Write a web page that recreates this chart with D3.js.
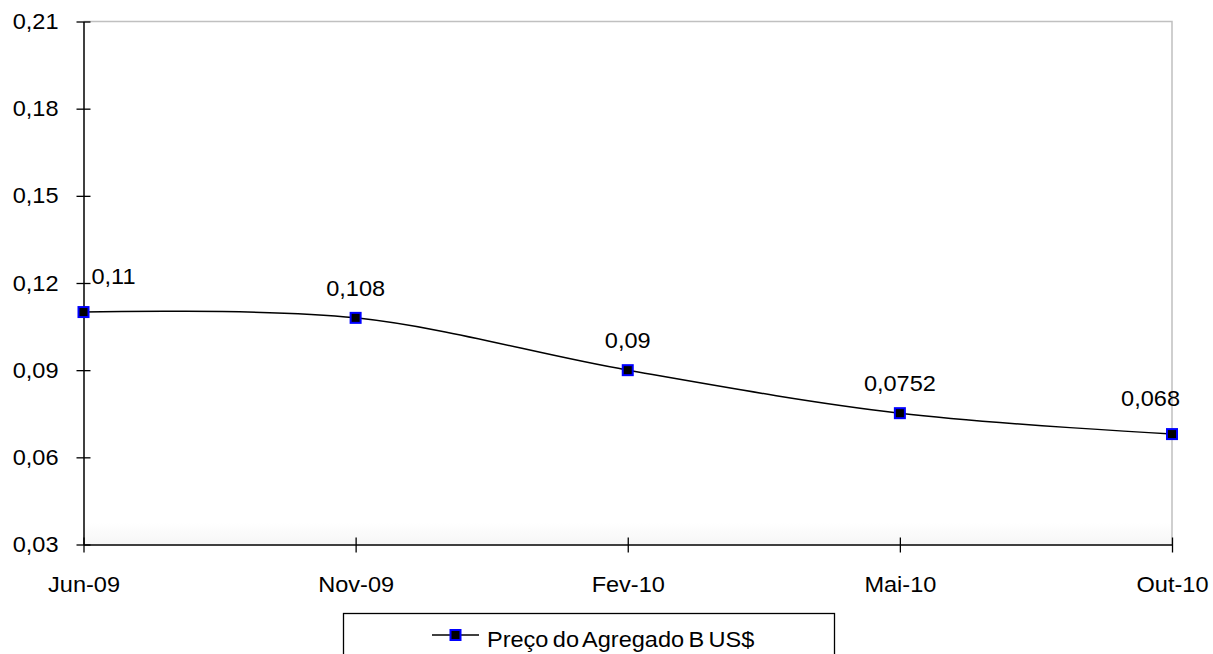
<!DOCTYPE html>
<html>
<head>
<meta charset="utf-8">
<script src="https://cdn.jsdelivr.net/npm/d3@7"></script>
<style>
  html, body { margin: 0; padding: 0; background: #fff; }
  svg { display: block; }
  text { font-family: "Liberation Sans", Arial, sans-serif; fill: #000; }
</style>
</head>
<body>
<svg id="chart" width="1213" height="654"></svg>
<script>
// Preço do Agregado B (US$) por período
const periods = ["Jun-09", "Nov-09", "Fev-10", "Mai-10", "Out-10"];
const prices = [0.11, 0.108, 0.09, 0.0752, 0.068];
const priceLabels = ["0,11", "0,108", "0,09", "0,0752", "0,068"];
const yTicks = [0.03, 0.06, 0.09, 0.12, 0.15, 0.18, 0.21];
const seriesName = "Preço do Agregado B US$";

const svg = d3.select("#chart");
const plot = { left: 83.5, right: 1172, top: 21.5, bottom: 544.5 };
const fontSize = 22;
const widen = 1.07; // slightly wide lettering

const x = d3.scalePoint().domain(periods).range([plot.left, plot.right]);
const y = d3.scaleLinear().domain([0.03, 0.21]).range([plot.bottom, plot.top]);
const fmt = d => d3.format(".2f")(d).replace(".", ",");

// stretch a text element horizontally around its own anchor x
function stretch(sel) {
  sel.each(function () {
    const t = d3.select(this);
    const ax = +t.attr("x") || 0;
    t.attr("transform", `translate(${ax},0) scale(${widen},1) translate(${-ax},0)`);
  });
}

// faint shading along the bottom of the plot area
const defs = svg.append("defs");
const grad = defs.append("linearGradient").attr("id", "floor").attr("x1", 0).attr("x2", 0).attr("y1", 0).attr("y2", 1);
grad.append("stop").attr("offset", "0%").attr("stop-color", "#fff");
grad.append("stop").attr("offset", "100%").attr("stop-color", "#f6f6f6");
svg.append("rect")
  .attr("x", plot.left).attr("y", plot.bottom - 22)
  .attr("width", plot.right - plot.left).attr("height", 22)
  .attr("fill", "url(#floor)");

// top and right frame
svg.append("path")
  .attr("d", `M${plot.left},${plot.top}H${plot.right}V${plot.bottom}`)
  .attr("fill", "none").attr("stroke", "#c0c0c0").attr("stroke-width", 1.5);

// y axis with ticks crossing the line
const yAxis = svg.append("g").attr("transform", `translate(${plot.left},0)`)
  .call(d3.axisLeft(y).tickValues(yTicks).tickFormat(fmt).tickSizeInner(7).tickSizeOuter(0).tickPadding(16));
yAxis.select(".domain").attr("stroke", "#000").attr("stroke-width", 1.5);
yAxis.selectAll(".tick line").attr("x2", 7).attr("x1", -7).attr("stroke", "#000").attr("stroke-width", 1.3);
yAxis.selectAll(".tick text")
  .attr("font-size", fontSize).attr("font-family", "Liberation Sans, Arial, sans-serif").attr("fill", "#000")
  .attr("x", -25).call(stretch);

// x axis
const xAxis = svg.append("g").attr("transform", `translate(0,${plot.bottom})`)
  .call(d3.axisBottom(x).tickSizeInner(8).tickSizeOuter(0).tickPadding(24));
xAxis.select(".domain").attr("stroke", "#000").attr("stroke-width", 1.5);
xAxis.selectAll(".tick line").attr("y1", -7).attr("y2", 8).attr("stroke", "#000").attr("stroke-width", 1.3);
xAxis.selectAll(".tick text")
  .attr("font-size", fontSize).attr("font-family", "Liberation Sans, Arial, sans-serif").attr("fill", "#000")
  .call(stretch);

// smoothed series line
const line = d3.line()
  .x((d, i) => x(periods[i]))
  .y(d => y(d))
  .curve(d3.curveCardinal.tension(0));
svg.append("path")
  .datum(prices)
  .attr("d", line)
  .attr("fill", "none").attr("stroke", "#000").attr("stroke-width", 1.5);

// markers
const mk = 10;
svg.append("g").selectAll("rect").data(prices).join("rect")
  .attr("x", (d, i) => x(periods[i]) - mk / 2)
  .attr("y", d => y(d) - mk / 2)
  .attr("width", mk).attr("height", mk)
  .attr("fill", "#000").attr("stroke", "#0000ff").attr("stroke-width", 2);

// value labels: centred above, end points nudged inside
const last = prices.length - 1;
svg.append("g").selectAll("text").data(prices).join("text")
  .attr("x", (d, i) => x(periods[i]) + (i === 0 ? 8 : i === last ? 8 : 0))
  .attr("y", (d, i) => y(d) - (i === 0 || i === last ? 28 : 22))
  .attr("text-anchor", (d, i) => i === 0 ? "start" : i === last ? "end" : "middle")
  .attr("font-size", fontSize)
  .text((d, i) => priceLabels[i])
  .call(stretch);

// legend
const lg = svg.append("g");
lg.append("rect")
  .attr("x", 343.5).attr("y", 613.5).attr("width", 491).attr("height", 60)
  .attr("fill", "#fff").attr("stroke", "#000").attr("stroke-width", 1.3);
lg.append("line")
  .attr("x1", 432).attr("x2", 479).attr("y1", 635).attr("y2", 635)
  .attr("stroke", "#000").attr("stroke-width", 1.5);
lg.append("rect")
  .attr("x", 455.5 - mk / 2).attr("y", 635 - mk / 2).attr("width", mk).attr("height", mk)
  .attr("fill", "#000").attr("stroke", "#0000ff").attr("stroke-width", 2);
lg.append("text")
  .attr("x", 487).attr("y", 647)
  .attr("font-size", fontSize)
  .attr("word-spacing", "-2px")
  .text(seriesName)
  .call(stretch);
</script>
</body>
</html>
